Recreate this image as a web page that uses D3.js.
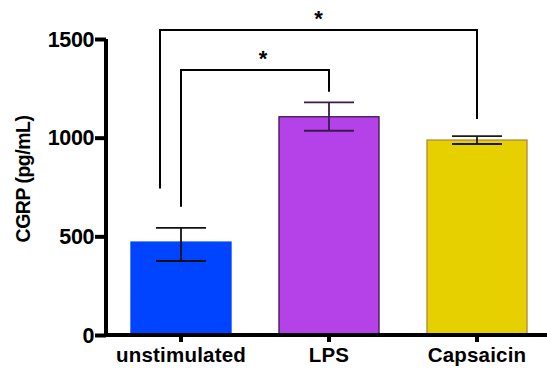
<!DOCTYPE html>
<html>
<head>
<meta charset="utf-8">
<script src="https://cdn.jsdelivr.net/npm/d3@7"></script>
<style>
  body { margin: 0; background: #fff; }
  svg { display: block; font-family: "Liberation Sans", Arial, sans-serif; }
</style>
</head>
<body>
<div class="container"></div>
<script>
const categories = ["unstimulated", "LPS", "Capsaicin"];
const means = [471, 1106, 988];
const errUpper = [543, 1179, 1008];
const errLower = [375, 1035, 968];
const fills = ["#0044ff", "#b542e8", "#e6d000"];
const strokes = ["#0044ff", "#3b1a4d", "#b08a3a"];
const errColors = ["#111111", "#3b1a4d", "#1a1a1a"];
const yTicks = [0, 500, 1000, 1500];
// significance brackets: [from, to, top, leftEnd, rightEnd]
const brackets = [
  ["unstimulated", "LPS", 1343, 650, 1233],
  ["unstimulated", "Capsaicin", 1545, 742, 1095]
];
const bracketOffsets = [0, -21];
const starOffsets = [8, 0];

const width = 547, height = 374;
const svg = d3.select(".container").append("svg").attr("width", width).attr("height", height);

const y = d3.scaleLinear().domain([0, 1500]).range([335, 39]);
const x = d3.scaleBand().domain(categories).range([107, 551]).paddingInner(0.324).paddingOuter(0.162);

// bars
svg.selectAll("rect.bar").data(categories).enter().append("rect")
  .attr("class", "bar")
  .attr("x", d => x(d))
  .attr("y", (d, i) => y(means[i]))
  .attr("width", x.bandwidth())
  .attr("height", (d, i) => y(0) - y(means[i]))
  .attr("fill", (d, i) => fills[i])
  .attr("stroke", (d, i) => strokes[i])
  .attr("stroke-width", 1.3);

// error bars
const cx = d => x(d) + x.bandwidth() / 2;
const eg = svg.append("g").attr("stroke-width", 1.8);
categories.forEach((d, i) => {
  const c = cx(d);
  eg.append("line").attr("x1", c).attr("x2", c).attr("y1", y(errUpper[i])).attr("y2", y(errLower[i])).attr("stroke", errColors[i]);
  eg.append("line").attr("x1", c - 25).attr("x2", c + 25).attr("y1", y(errUpper[i])).attr("y2", y(errUpper[i])).attr("stroke", errColors[i]);
  eg.append("line").attr("x1", c - 25).attr("x2", c + 25).attr("y1", y(errLower[i])).attr("y2", y(errLower[i])).attr("stroke", errColors[i]);
});

// y axis
const yAxis = svg.append("g").attr("transform", "translate(106,0)")
  .call(d3.axisLeft(y).tickValues(yTicks).tickSize(11).tickPadding(1).tickFormat(d3.format("d")));
yAxis.select(".domain").attr("stroke", "#000").attr("stroke-width", 4).attr("d", `M0,${y(1500)}V${y(0) + 2}`);
yAxis.selectAll(".tick line").attr("stroke", "#000").attr("stroke-width", 4);
yAxis.selectAll(".tick text").attr("fill", "#000").attr("font-size", 21.5).attr("font-weight", "bold")
  .attr("font-family", "Liberation Sans, Arial, sans-serif").attr("letter-spacing", -0.4)
  .attr("dy", "0.34em");

// x axis
const xAxis = svg.append("g").attr("transform", "translate(0,335)")
  .call(d3.axisBottom(x).tickSize(7).tickPadding(5));
xAxis.select(".domain").attr("stroke", "#000").attr("stroke-width", 4).attr("d", `M104,0H${width}`);
xAxis.selectAll(".tick line").attr("stroke", "#000").attr("stroke-width", 4);
xAxis.selectAll(".tick text").attr("fill", "#000").attr("font-size", 20.5).attr("font-weight", "bold")
  .attr("font-family", "Liberation Sans, Arial, sans-serif").attr("letter-spacing", 0.2);

// y label
svg.append("text")
  .attr("transform", "translate(30,179) rotate(-90)")
  .attr("text-anchor", "middle")
  .attr("font-size", 19.5).attr("font-weight", "bold").attr("letter-spacing", -0.5)
  .text("CGRP (pg/mL)");

// significance brackets
const bg = svg.append("g").attr("stroke", "#000").attr("stroke-width", 2).attr("fill", "none");
brackets.forEach((b, i) => {
  const x1 = cx(b[0]) + bracketOffsets[i], x2 = cx(b[1]);
  bg.append("path").attr("d", `M${x1},${y(b[3])}V${y(b[2])}H${x2}V${y(b[4])}`);
  svg.append("text").attr("x", (x1 + x2) / 2 + starOffsets[i]).attr("y", y(b[2]) - 4)
    .attr("text-anchor", "middle").attr("font-size", 22).attr("font-weight", "bold").text("*");
});
</script>
</body>
</html>
